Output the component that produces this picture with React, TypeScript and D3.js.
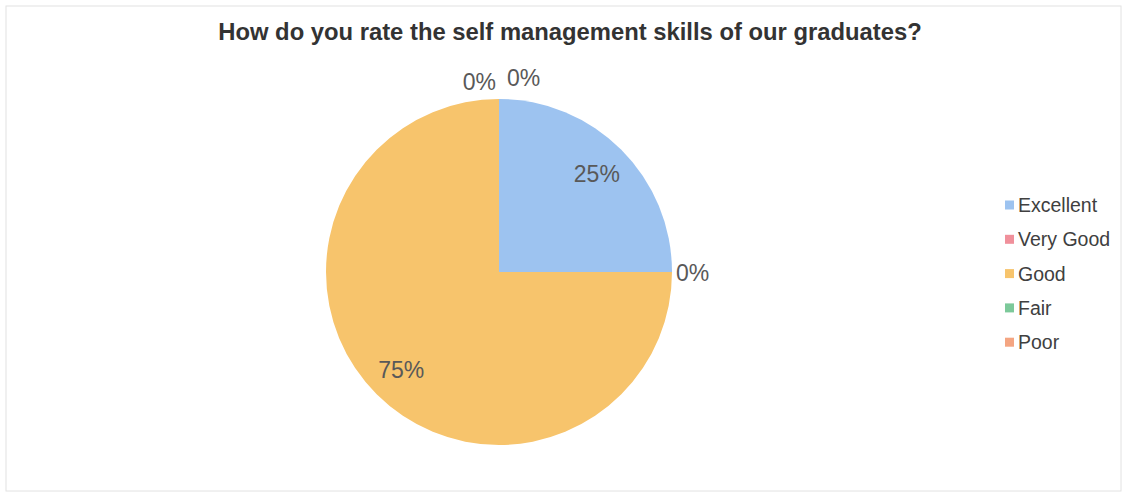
import React from "react";
import * as d3 from "d3";

const categories = ["Excellent", "Very Good", "Good", "Fair", "Poor"];
const values = [25, 0, 75, 0, 0];
const colors = ["#9DC3F0", "#F0909B", "#F7C46C", "#7CC99A", "#F4A582"];
const title = "How do you rate the self management skills of our graduates?";

export default function App() {
  const W = 1127, H = 495;
  const cx = 499, cy = 272, r = 173;
  const pie = d3.pie<number>().value((d) => d).sort(null);
  const arcs = pie(values);
  const arc = d3.arc<d3.PieArcDatum<number>>().innerRadius(0).outerRadius(r);
  const labelArc = d3.arc<d3.PieArcDatum<number>>().innerRadius(r * 0.8).outerRadius(r * 0.8);
  const total = d3.sum(values);
  const fmt = (v: number) => `${Math.round((v / total) * 100)}%`;
  const font = "'Liberation Sans', Arial, sans-serif";

  // offsets for zero-value labels drawn outside the pie
  const outsideOffsets: Record<number, { dx: number; dy: number; anchor: string }> = {
    1: { dx: 0, dy: 1, anchor: "start" },
    3: { dx: -3, dy: -1, anchor: "end" },
    4: { dx: 8, dy: -5, anchor: "start" },
  };

  return (
    <svg width={W} height={H} style={{ position: "absolute", left: 0, top: 0, background: "#fff" }}>
      <rect x={6} y={6} width={W - 12} height={H - 10} fill="#fff" stroke="#e2e2e2" strokeWidth={1} />
      <text x={570} y={40} textAnchor="middle" fontFamily={font} fontWeight="bold" fontSize={23.8} fill="#333">
        {title}
      </text>
      <g transform={`translate(${cx},${cy})`}>
        {arcs.map((a, i) => (
          <path key={i} d={arc(a) || ""} fill={colors[i]} />
        ))}
        {arcs.map((a, i) => {
          if (a.value > 0) {
            const [x, y] = labelArc.centroid(a);
            return (
              <text key={"l" + i} x={x} y={y} textAnchor="middle" dominantBaseline="central" fontFamily={font} fontSize={23} fill="#595959">
                {fmt(a.value)}
              </text>
            );
          }
          const ang = a.startAngle;
          const rr = r + 4;
          const off = outsideOffsets[i] || { dx: 0, dy: 0, anchor: "middle" };
          const x = Math.sin(ang) * rr + off.dx;
          const y = -Math.cos(ang) * rr + off.dy;
          const isTop = Math.abs(Math.cos(ang)) > 0.9;
          return (
            <text key={"l" + i} x={x} y={isTop ? y - 12 : y} textAnchor={off.anchor} dominantBaseline="central" fontFamily={font} fontSize={23} fill="#595959">
              {fmt(a.value)}
            </text>
          );
        })}
      </g>
      <g transform="translate(1005,205)">
        {categories.map((c, i) => (
          <g key={c} transform={`translate(0,${i * 34.3})`}>
            <rect x={0} y={-4.5} width={9} height={9} fill={colors[i]} />
            <text x={13} y={0} dominantBaseline="central" fontFamily={font} fontSize={19.5} fill="#404040">
              {c}
            </text>
          </g>
        ))}
      </g>
    </svg>
  );
}
